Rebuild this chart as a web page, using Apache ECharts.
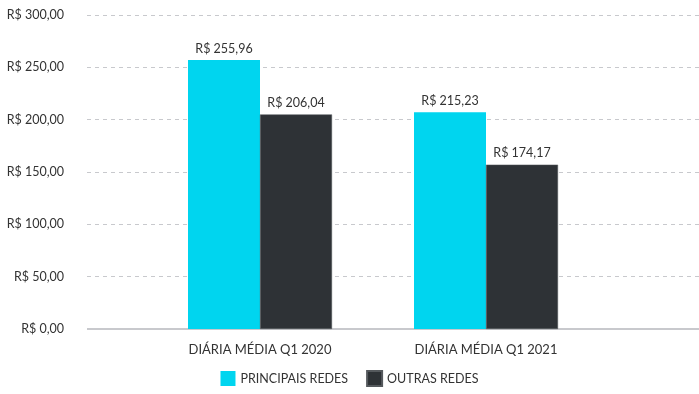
<!DOCTYPE html>
<html><head><meta charset="utf-8">
<script src="https://cdn.jsdelivr.net/npm/echarts@6/dist/echarts.min.js"></script>
<style>html,body{margin:0;padding:0;background:#fff}#c{width:699px;height:394px}</style>
</head><body><div id="c"></div>
<script>
const categories = ['DIÁRIA MÉDIA Q1 2020', 'DIÁRIA MÉDIA Q1 2021'];
const seriesNames = ['PRINCIPAIS REDES', 'OUTRAS REDES'];
const principais = [257, 207];
const outras = [205, 157];
const principaisLabels = ['R$ 255,96', 'R$ 215,23'];
const outrasLabels = ['R$ 206,04', 'R$ 174,17'];
const yTicks = [0, 50, 100, 150, 200, 250, 300];

const fmt = v => 'R$ ' + v.toFixed(2).replace('.', ',');
const font = 'Lato, "Open Sans", sans-serif';
const chart = echarts.init(document.getElementById('c'), null, {renderer: 'canvas'});
chart.setOption({
  animation: false,
  textStyle: {fontFamily: font},
  legend: {
    data: seriesNames, top: 370, left: 'center', itemWidth: 15, itemHeight: 15,
    itemGap: 18, icon: 'rect', padding: 0,
    textStyle: {fontSize: 12.5, color: '#333', fontFamily: font}
  },
  grid: [
    {left: 87, right: 0, top: 15, bottom: 65},
    {left: 147, right: 100, top: 15, bottom: 65}
  ],
  xAxis: [
    {type: 'value', gridIndex: 0, show: false, min: 0, max: 1},
    {type: 'category', gridIndex: 1, data: categories,
     axisLine: {show: false}, axisTick: {show: false},
     axisLabel: {fontSize: 13, color: '#333', margin: 14, fontFamily: font}}
  ],
  yAxis: [
    {type: 'value', gridIndex: 0, min: 0, max: 300, interval: 50,
     axisLine: {show: false}, axisTick: {show: false},
     axisLabel: {formatter: fmt, fontSize: 12.5, color: '#333', margin: 23, fontFamily: font},
     splitLine: {lineStyle: {type: [4, 4], color: '#c8c9cd', width: 1}}},
    {type: 'value', gridIndex: 1, min: 0, max: 300, interval: 50, show: false}
  ],
  series: [
    {type: 'line', xAxisIndex: 0, yAxisIndex: 0, data: [[0, 0], [1, 0]], symbol: 'none',
     lineStyle: {color: '#c8c9cd', width: 2}, silent: true, z: 1},
    {name: seriesNames[0], type: 'bar', xAxisIndex: 1, yAxisIndex: 1, data: principais,
     barWidth: 72, barGap: '0%', itemStyle: {color: '#00d5ef'}, z: 3,
     label: {show: true, position: 'top', distance: 5, fontSize: 12.5, color: '#333', fontFamily: font,
             formatter: p => principaisLabels[p.dataIndex]}},
    {name: seriesNames[1], type: 'bar', xAxisIndex: 1, yAxisIndex: 1, data: outras,
     barWidth: 72, barGap: '0%', itemStyle: {color: '#2e3236', borderColor: '#55595d', borderWidth: 0.5}, z: 3,
     label: {show: true, position: 'top', distance: 5, fontSize: 12.5, color: '#333', fontFamily: font,
             formatter: p => outrasLabels[p.dataIndex]}}
  ]
});
</script></body></html>
